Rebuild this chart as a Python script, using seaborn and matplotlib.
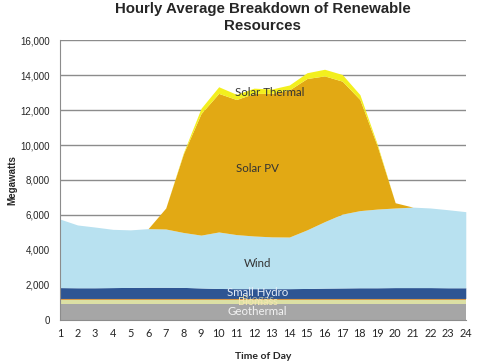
import numpy as np
import pandas as pd
import seaborn as sns
import matplotlib.pyplot as plt

# == Data (MW, hourly average) == #
hours = list(range(1, 25))
geothermal = [900, 900, 900, 900, 900, 900, 900, 900, 900, 900, 900, 900,
              900, 900, 900, 900, 900, 900, 900, 900, 900, 900, 900, 900]
biomass = [220, 220, 220, 220, 220, 220, 220, 220, 220, 220, 220, 220,
           220, 220, 220, 220, 220, 220, 220, 220, 220, 220, 220, 220]
biogas = [110, 110, 110, 110, 110, 110, 110, 110, 110, 110, 110, 110,
          110, 110, 110, 110, 110, 110, 110, 110, 110, 110, 110, 110]
small_hydro = [620, 610, 610, 620, 630, 640, 640, 630, 600, 570, 560, 560,
               560, 560, 570, 590, 600, 610, 610, 620, 620, 620, 610, 610]
wind = [3920, 3590, 3470, 3330, 3290, 3350, 3330, 3140, 3020, 3230, 3090, 3010,
        2960, 2950, 3350, 3800, 4220, 4410, 4500, 4550, 4600, 4550, 4460, 4350]
solar_pv = [0, 0, 0, 0, 0, 0, 1200, 4500, 6950, 7920, 7720, 8150,
            8200, 8410, 8650, 8330, 7600, 6350, 3560, 300, 0, 0, 0, 0]
solar_thermal = [0, 0, 0, 0, 0, 0, 0, 60, 300, 380, 300, 300,
                 250, 280, 330, 380, 380, 280, 100, 0, 0, 0, 0, 0]

names = ['Geothermal', 'Biomass', 'Biogas', 'Small Hydro', 'Wind', 'Solar PV', 'Solar Thermal']
colors = ['#A6A6A6', '#DCE0A4', '#D8994A', '#2E5593', '#B8E1F0', '#E2A914', '#F3EF1E']

df = pd.DataFrame({'Hour': hours, 'Geothermal': geothermal, 'Biomass': biomass,
                   'Biogas': biogas, 'Small Hydro': small_hydro, 'Wind': wind,
                   'Solar PV': solar_pv, 'Solar Thermal': solar_thermal})

sns.set_style('white')
plt.rcParams['font.family'] = ['Liberation Sans', 'DejaVu Sans']

fig = plt.figure(figsize=(5.03, 3.64), dpi=100)
ax = fig.add_axes([0.119, 0.121, 0.807, 0.769])

# horizontal grid behind the areas
for yv in range(2000, 16001, 2000):
    ax.axhline(yv, color='#8C8C8C', lw=1.0, zorder=0)

ax.stackplot(df['Hour'], [df[n] for n in names], colors=colors, lw=0, zorder=2)

ax.set_xlim(1, 24)
ax.set_ylim(0, 16000)
ax.set_xticks(hours)
ax.set_xticklabels([str(h) for h in hours], fontsize=7.8, family='Lato')
ax.set_yticks(range(0, 16001, 2000))
ax.set_yticklabels([f'{v:,}' for v in range(0, 16001, 2000)], fontsize=7)

for s in ['top', 'right']:
    ax.spines[s].set_visible(False)
ax.spines['left'].set_color('#8C8C8C')
ax.spines['bottom'].set_color('#8C8C8C')
ax.spines['bottom'].set_zorder(3)
ax.tick_params(axis='x', length=3, color='#8C8C8C', direction='out', pad=3)
ax.tick_params(axis='y', length=4, color='#8C8C8C', direction='out', pad=3)

ax.set_title('Hourly Average Breakdown of Renewable\nResources', fontsize=10.8,
             fontweight='bold', linespacing=1.3, pad=7)
ax.set_xlabel('Time of Day', fontsize=7.5, fontweight='bold', family='Lato', labelpad=9)
ax.set_ylabel('Megawatts', fontsize=7, fontweight='bold', labelpad=2)

# area labels
lbl = dict(ha='center', va='center', family='Lato', zorder=5)
ax.text(12.9, 13000, 'Solar Thermal', color='#333333', fontsize=8.3, **lbl)
ax.text(12.2, 8650, 'Solar PV', color='#333333', fontsize=8.3, **lbl)
ax.text(12.2, 3250, 'Wind', color='#333333', fontsize=8.3, **lbl)
ax.text(12.2, 1560, 'Small Hydro', color='#E6EEF8', fontsize=8.3, **lbl)
ax.text(12.2, 1080, 'Biomass', color='#F4E7B0', fontsize=7.8, **lbl)
ax.text(12.2, 1160, 'Biogas', color='#F4E7B0', alpha=0.6, fontsize=7.8, **lbl)
ax.text(12.2, 460, 'Geothermal', color='#F2F2F2', fontsize=8.3, **lbl)

fig.savefig('out.png', dpi=100)
